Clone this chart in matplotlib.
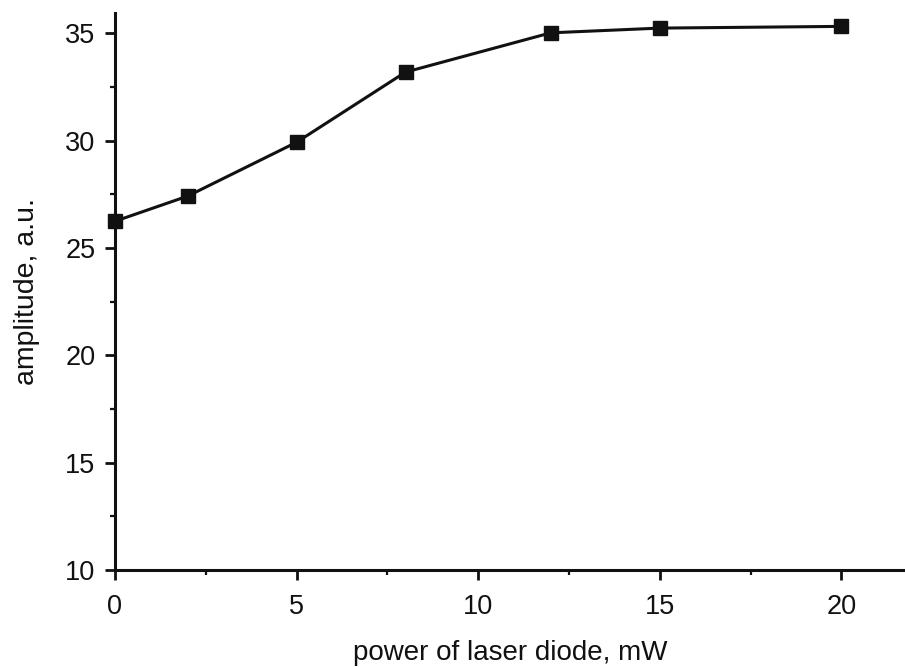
import matplotlib
matplotlib.use("Agg")
import matplotlib.pyplot as plt
from matplotlib.ticker import MultipleLocator

plt.rcParams['font.family'] = ['Liberation Sans', 'DejaVu Sans']

power_mw = [0, 2, 5, 8, 12, 15, 20]
amplitude = [26.25, 27.42, 29.93, 33.2, 35.03, 35.25, 35.33]

fig = plt.figure(figsize=(9.05, 6.67), dpi=100)
ax = fig.add_axes([0.127, 0.1454, 0.873, 0.835])

ax.plot(power_mw, amplitude, color='#111111', lw=2.2, marker='s',
        markersize=10, markerfacecolor='#111111', markeredgecolor='#111111',
        clip_on=False, zorder=3)

ax.set_xlim(0, 21.75)
ax.set_ylim(10, 35.95)
ax.xaxis.set_major_locator(MultipleLocator(5))
ax.xaxis.set_minor_locator(MultipleLocator(2.5))
ax.yaxis.set_major_locator(MultipleLocator(5))
ax.yaxis.set_minor_locator(MultipleLocator(2.5))

for side in ('top', 'right'):
    ax.spines[side].set_visible(False)
for side in ('left', 'bottom'):
    ax.spines[side].set_linewidth(2.2)
    ax.spines[side].set_color('#111111')

ax.tick_params(which='major', direction='out', length=7, width=2.0,
               labelsize=19.5, color='#111111', labelcolor='#111111')
ax.tick_params(which='minor', direction='out', length=3.6, width=1.6,
               color='#111111')
ax.tick_params(axis='y', which='major', pad=7)
ax.tick_params(axis='x', which='major', pad=10)

ax.set_xlabel('power of laser diode, mW', fontsize=20, labelpad=14.5,
              color='#111111')
ax.set_ylabel('amplitude, a.u.', fontsize=20.5, labelpad=18,
              color='#111111')

fig.savefig('out.png', dpi=100)
